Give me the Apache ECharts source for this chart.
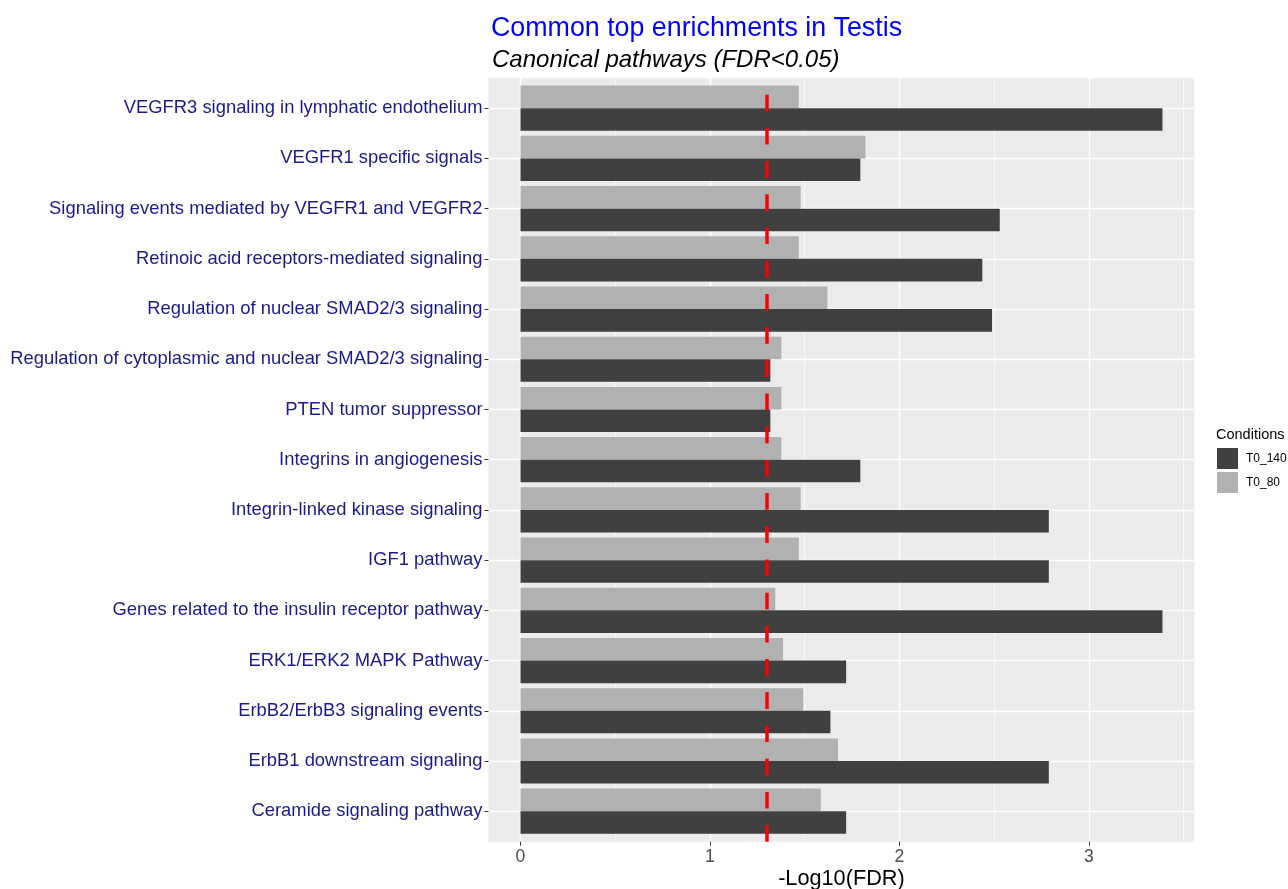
<!DOCTYPE html>
<html>
<head>
<meta charset="utf-8">
<script src="https://cdn.jsdelivr.net/npm/echarts@6/dist/echarts.min.js"></script>
<style>
html,body{margin:0;padding:0;background:#fff;}
#chart{width:1288px;height:889px;}
</style>
</head>
<body>
<div id="chart"></div>
<script>
// ---- data (bottom to top, as drawn) ----
const categories = [
  'Ceramide signaling pathway',
  'ErbB1 downstream signaling',
  'ErbB2/ErbB3 signaling events',
  'ERK1/ERK2 MAPK Pathway',
  'Genes related to the insulin receptor pathway',
  'IGF1 pathway',
  'Integrin-linked kinase signaling',
  'Integrins in angiogenesis',
  'PTEN tumor suppressor',
  'Regulation of cytoplasmic and nuclear SMAD2/3 signaling',
  'Regulation of nuclear SMAD2/3 signaling',
  'Retinoic acid receptors-mediated signaling',
  'Signaling events mediated by VEGFR1 and VEGFR2',
  'VEGFR1 specific signals',
  'VEGFR3 signaling in lymphatic endothelium'
];
const t0_140 = [1.719, 2.789, 1.636, 1.719, 3.389, 2.789, 2.789, 1.794, 1.319, 1.319, 2.489, 2.438, 2.530, 1.794, 3.389];
const t0_80  = [1.585, 1.676, 1.493, 1.386, 1.345, 1.469, 1.479, 1.377, 1.377, 1.377, 1.620, 1.469, 1.479, 1.821, 1.469];
const seriesNames = ['T0_140', 'T0_80'];
const xMajorTicks = [0, 1, 2, 3];
const xMinorTicks = [0.5, 1.5, 2.5, 3.5];
const fdrCutoff = 0.05;
const xMin = -0.169, xMax = 3.557;

const threshold = -Math.log10(fdrCutoff);
const chart = echarts.init(document.getElementById('chart'), null, {renderer: 'canvas'});
const FONT = 'Liberation Sans, Arial, sans-serif';

const option = {
  backgroundColor: '#ffffff',
  animation: false,
  title: [
    {text: 'Common top enrichments in Testis', left: 486, top: 10,
     textStyle: {color: '#0000FF', fontSize: 26.8, fontWeight: 'normal', fontFamily: FONT}},
    {text: 'Canonical pathways (FDR<0.05)', left: 487, top: 43,
     textStyle: {color: '#000000', fontSize: 24, fontStyle: 'italic', fontWeight: 'normal', fontFamily: FONT}},
    {text: 'Conditions', left: 1216, top: 427, padding: 0,
     textStyle: {color: '#000000', fontSize: 14.5, fontWeight: 'normal', fontFamily: FONT}}
  ],
  legend: {
    data: seriesNames,
    orient: 'vertical',
    left: 1217, top: 448,
    itemWidth: 21, itemHeight: 21, itemGap: 3,
    icon: 'rect',
    padding: 0,
    textStyle: {fontSize: 12, color: '#000', fontFamily: FONT, padding: [0,0,0,3]}
  },
  grid: [
    {left: 488.5, top: 78.2, width: 705.8, height: 763.5, show: true,
     backgroundColor: '#EBEBEB', borderWidth: 0, z: -1, outerBoundsMode: 'none', containLabel: false},
    {left: 488.5, top: 83.1, width: 705.8, height: 753.2, show: false, outerBoundsMode: 'none', containLabel: false}
  ],
  xAxis: [
    {gridIndex: 0, type: 'value', min: xMin, max: xMax,
     name: '-Log10(FDR)', nameLocation: 'middle', nameGap: 26, nameMoveOverlap: false,
     nameTextStyle: {fontSize: 21.7, color: '#000', fontFamily: FONT, verticalAlign: 'top'},
     axisLine: {show: false},
     axisTick: {show: true, length: 4, lineStyle: {color: '#333', width: 1}, customValues: xMajorTicks},
     axisLabel: {show: true, margin: 6, fontSize: 17.6, color: '#4D4D4D', fontFamily: FONT, customValues: xMajorTicks},
     splitLine: {show: true, lineStyle: {color: '#FFFFFF', width: 1.4}}},
    {gridIndex: 0, type: 'value', min: xMin, max: xMax, position: 'top',
     axisLine: {show: false},
     axisTick: {show: false, customValues: xMinorTicks},
     axisLabel: {show: false, customValues: xMinorTicks},
     splitLine: {show: true, lineStyle: {color: '#FFFFFF', width: 0.6}}},
    {gridIndex: 1, type: 'value', min: xMin, max: xMax, show: false,
     splitLine: {show: false}}
  ],
  yAxis: [
    {gridIndex: 0, type: 'value', min: 0, max: 1, show: false, splitLine: {show: false}},
    {gridIndex: 1, type: 'category', data: categories,
     axisLine: {show: false, onZero: false},
     axisTick: {show: true, alignWithLabel: true, length: 4, lineStyle: {color: '#333', width: 1}},
     axisLabel: {margin: 6, fontSize: 18.4, color: '#1A1A90', fontFamily: FONT, padding: [3, 0, 0, 0]},
     splitLine: {show: true, alignWithLabel: true, lineStyle: {color: '#FFFFFF', width: 1.4}}}
  ],
  series: [
    {name: 'T0_80', type: 'bar', xAxisIndex: 2, yAxisIndex: 1, data: t0_80,
     itemStyle: {color: '#B1B1B1'}, barCategoryGap: '10%', barGap: '0%'},
    {name: 'T0_140', type: 'bar', xAxisIndex: 2, yAxisIndex: 1, data: t0_140,
     itemStyle: {color: '#404040'}, barCategoryGap: '10%', barGap: '0%'},
    {name: 'cutoff', type: 'line', xAxisIndex: 0, yAxisIndex: 0, data: [], z: 5,
     markLine: {silent: true, symbol: ['none', 'none'], label: {show: false},
       lineStyle: {color: '#FF0000', width: 3.5, type: [16.6, 16.6]},
       data: [{xAxis: threshold}]}}
  ]
};
chart.setOption(option);
</script>
</body>
</html>
